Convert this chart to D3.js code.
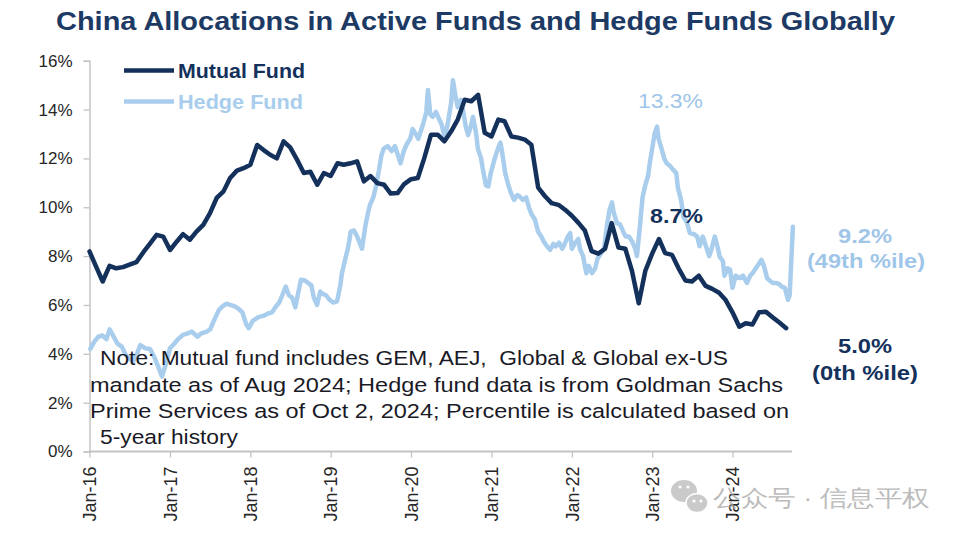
<!DOCTYPE html>
<html><head><meta charset="utf-8">
<script src="https://cdn.jsdelivr.net/npm/d3@7"></script>
<style>
body{margin:0;background:#fff}
text{font-family:"Liberation Sans",Arial,sans-serif}
</style>
</head><body>
<svg id="chart" width="960" height="537"></svg>
<script>
// ---------- DATA ----------
const titleText = "China Allocations in Active Funds and Hedge Funds Globally";
const seriesNames = ["Mutual Fund", "Hedge Fund"];

// Mutual fund: monthly, starting Jan 2016
const mutualStart = "2016-01-01";
const mutualValues = [
  8.19, 7.55, 6.96, 7.6, 7.5, 7.55, 7.65, 7.75, 8.15, 8.5, 8.87, 8.8,
  8.25, 8.6, 8.9, 8.67, 9.0, 9.28, 9.75, 10.38, 10.65, 11.2, 11.5, 11.6,
  11.74, 12.55, 12.35, 12.15, 12.0, 12.7, 12.45, 11.95, 11.4, 11.45, 10.92, 11.4,
  11.28, 11.8, 11.74, 11.8, 11.88, 11.06, 11.28, 10.99, 10.92, 10.56, 10.58, 10.95,
  11.15, 11.2, 12.0, 12.97, 12.97, 12.7, 13.1, 13.6, 14.4, 14.34, 14.6, 13.05,
  12.9, 13.59, 13.52, 12.9, 12.85, 12.77, 12.56, 10.8, 10.45, 10.17, 10.1, 9.9,
  9.65, 9.35, 9.05, 8.2, 8.1, 8.3, 9.35, 8.35, 8.3, 7.4, 6.07, 7.4,
  8.1, 8.7, 8.12, 8.05, 7.5, 7.0, 6.96, 7.2, 6.78, 6.66, 6.5, 6.2,
  5.7, 5.11, 5.25, 5.2, 5.7, 5.72, 5.5, 5.28, 5.05
];

// Hedge fund: dates as decimal years, values in %
const hedgeDates = [
  2016.01,2016.06,2016.11,2016.16,2016.21,2016.25,2016.30,2016.35,2016.40,2016.45,2016.50,2016.54,2016.59,2016.63,2016.69,2016.75,2016.80,2016.85,2016.90,2016.95,
  2017.00,2017.05,2017.10,2017.16,2017.23,2017.27,2017.34,2017.39,2017.45,2017.50,2017.56,2017.61,2017.65,2017.70,2017.75,2017.80,2017.85,2017.90,2017.95,2017.98,
  2018.03,2018.10,2018.16,2018.22,2018.27,2018.32,2018.36,2018.41,2018.44,2018.48,2018.52,2018.56,2018.59,2018.63,2018.68,2018.72,2018.76,2018.79,2018.83,2018.87,2018.90,2018.94,2018.99,
  2019.03,2019.08,2019.12,2019.14,2019.18,2019.22,2019.25,2019.29,2019.33,2019.36,2019.39,2019.43,2019.46,2019.49,2019.53,2019.56,2019.60,2019.63,2019.66,2019.71,2019.76,2019.80,2019.84,2019.87,2019.91,2019.95,2019.99,
  2020.02,2020.06,2020.09,2020.12,2020.15,2020.19,2020.21,2020.24,2020.27,2020.31,2020.35,2020.38,2020.42,2020.46,2020.50,2020.52,2020.55,2020.58,2020.62,2020.65,2020.68,2020.71,2020.75,2020.77,2020.81,2020.83,2020.87,2020.89,2020.93,2020.96,2020.99,
  2021.04,2021.08,2021.11,2021.13,2021.17,2021.21,2021.24,2021.28,2021.32,2021.35,2021.39,2021.43,2021.47,2021.50,2021.54,2021.58,2021.62,2021.65,2021.69,2021.73,2021.77,2021.80,2021.84,2021.88,2021.91,2021.95,2021.98,
  2022.00,2022.04,2022.08,2022.10,2022.14,2022.18,2022.21,2022.25,2022.29,2022.32,2022.36,2022.40,2022.44,2022.47,2022.50,2022.52,2022.56,2022.60,2022.64,2022.67,2022.71,2022.75,2022.79,2022.81,2022.85,2022.88,2022.91,2022.95,2022.97,
  2023.01,2023.03,2023.06,2023.08,2023.12,2023.15,2023.18,2023.22,2023.26,2023.30,2023.32,2023.36,2023.39,2023.43,2023.47,2023.52,2023.56,2023.59,2023.63,2023.67,2023.71,2023.74,2023.78,2023.82,2023.84,2023.88,2023.90,2023.94,2023.97,
  2024.00,2024.04,2024.09,2024.13,2024.18,2024.22,2024.25,2024.29,2024.33,2024.36,2024.39,2024.43,2024.46,2024.50,2024.54,2024.58,2024.61,2024.65,2024.69,2024.71,2024.75
];
const hedgeValues = [
  4.2,4.5,4.7,4.75,4.6,5.0,4.7,4.4,4.3,3.95,3.8,3.68,4.0,4.36,4.23,4.2,3.9,3.5,3.07,3.6,
  4.23,4.4,4.6,4.77,4.85,4.91,4.7,4.84,4.9,5.0,5.46,5.8,5.93,6.05,6.0,5.95,5.85,5.7,5.2,5.05,
  5.35,5.5,5.55,5.65,5.7,5.95,6.1,6.5,6.75,6.4,6.3,5.9,6.4,7.03,7.0,6.9,6.8,6.3,6.0,6.55,6.45,6.4,6.2,
  6.1,6.15,6.8,7.3,7.85,8.4,9.0,9.05,8.8,8.55,8.3,9.2,9.7,10.1,10.4,10.8,11.5,12.1,12.4,12.5,12.3,12.5,12.1,11.8,12.3,12.6,12.8,
  13.2,13.0,12.8,13.1,13.4,13.9,14.8,13.8,13.7,13.9,13.6,13.4,12.8,13.5,14.3,15.2,14.6,14.1,14.4,13.9,13.3,12.95,13.4,13.7,13.0,12.4,12.0,11.6,10.9,10.85,11.4,
  12.0,12.4,12.65,12.3,11.4,10.9,10.6,10.3,10.5,10.44,10.3,10.4,9.95,9.7,9.5,9.0,8.8,8.6,8.4,8.26,8.5,8.4,8.55,8.3,8.5,8.8,8.94,
  8.3,8.53,8.7,8.3,8.0,7.3,7.6,7.3,7.5,7.9,8.1,8.3,9.3,9.9,10.2,9.8,9.35,9.3,9.0,8.8,8.8,8.6,8.3,8.0,9.3,10.4,10.85,11.3,11.8,
  12.6,13.0,13.3,12.8,12.36,12.0,11.8,11.7,11.54,11.4,10.8,10.3,9.6,9.4,8.94,8.9,8.8,8.4,8.8,8.4,8.0,8.3,8.8,8.3,7.98,7.8,7.2,7.5,7.44,
  6.7,7.2,7.1,7.2,6.9,7.2,7.3,7.5,7.7,7.85,7.6,7.1,7.0,6.9,6.9,6.85,6.75,6.7,6.21,6.4,9.2
];

const yTickValues = [0, 2, 4, 6, 8, 10, 12, 14, 16];
const xTickYears = [2016, 2017, 2018, 2019, 2020, 2021, 2022, 2023, 2024];
const xDomain = ["2016-01-01", "2024-10-02"];

const noteLines = [
  "Note: Mutual fund includes GEM, AEJ,  Global & Global ex-US",
  "mandate as of Aug 2024; Hedge fund data is from Goldman Sachs",
  "Prime Services as of Oct 2, 2024; Percentile is calculated based on",
  "5-year history"
];
const annHedgePeak = "13.3%";
const annMutualPeak = "8.7%";
const annHedgeLast = ["9.2%", "(49th %ile)"];
const annMutualLast = ["5.0%", "(0th %ile)"];
const watermark = "公众号 · 信息平权";

// ---------- STYLE ----------
const DARK = "#14315c";
const LIGHT = "#a9cdec";
const TITLE = "#1d3a64";
const AXIS = "#c3c3c3";

const svg = d3.select("#chart");
const parse = d3.timeParse("%Y-%m-%d");
function decYear(d){
  const y0 = Math.floor(d + 1e-9);
  const a = new Date(y0,0,1), b = new Date(y0+1,0,1);
  return new Date(+a + (d - y0) * (b - a));
}

const x = d3.scaleTime().domain(xDomain.map(parse)).range([89.5, 793]);
const y = d3.scaleLinear().domain([0, 16]).range([451.5, 60.7]);

const mStart = parse(mutualStart);
const mutual = mutualValues.map((v,i)=>({date:d3.timeMonth.offset(mStart,i), v}));
const hedge = hedgeValues.map((v,i)=>({date:decYear(hedgeDates[i]), v}));

// Title
svg.append("text").attr("x",56).attr("y",29.5)
  .attr("font-size",26).attr("font-weight","bold").attr("fill",TITLE)
  .attr("textLength",839).attr("lengthAdjust","spacingAndGlyphs")
  .text(titleText);

// Y axis
const yAxis = svg.append("g").attr("transform","translate(89.5,0)")
  .call(d3.axisLeft(y).tickValues(yTickValues).tickFormat(d=>d+"%").tickSize(6).tickPadding(11));
yAxis.select(".domain").attr("stroke",AXIS).attr("stroke-width",1.5);
yAxis.selectAll(".tick line").attr("stroke",AXIS).attr("stroke-width",1.3);
yAxis.selectAll(".tick text").attr("font-size",17).attr("fill","#262626")
  .attr("font-family","Liberation Sans, Arial, sans-serif");

// X axis
const xAxis = svg.append("g").attr("transform","translate(0,451.5)")
  .call(d3.axisBottom(x).tickValues(xTickYears.map(yr=>new Date(yr,0,1)))
    .tickFormat(d3.timeFormat("%b-%y")).tickSize(6));
xAxis.select(".domain").attr("stroke",AXIS).attr("stroke-width",2)
  .attr("d","M89.5,0H792");
xAxis.selectAll(".tick line").attr("stroke",AXIS).attr("stroke-width",1.3);
xAxis.selectAll(".tick text").attr("font-size",18).attr("fill","#262626")
  .attr("font-family","Liberation Sans, Arial, sans-serif")
  .attr("transform","rotate(-90)").attr("text-anchor","end")
  .attr("x",-15).attr("y",0).attr("dy","0.35em");

// Lines
const line = d3.line().x(d=>x(d.date)).y(d=>y(d.v)).curve(d3.curveLinear);
svg.append("path").datum(hedge).attr("d",line).attr("fill","none")
  .attr("stroke",LIGHT).attr("stroke-width",4.5).attr("stroke-linejoin","round").attr("stroke-linecap","round");
svg.append("path").datum(mutual).attr("d",line).attr("fill","none")
  .attr("stroke",DARK).attr("stroke-width",4.5).attr("stroke-linejoin","round").attr("stroke-linecap","round");

// Legend
const legend = [
  {name:seriesNames[0], color:DARK, ly:70.5, ty:77.5, w:127},
  {name:seriesNames[1], color:LIGHT, ly:101.5, ty:109, w:125}
];
legend.forEach(l=>{
  svg.append("line").attr("x1",124).attr("x2",174).attr("y1",l.ly).attr("y2",l.ly)
    .attr("stroke",l.color).attr("stroke-width",4.5);
  svg.append("text").attr("x",178).attr("y",l.ty).attr("font-size",19.5)
    .attr("font-weight","bold").attr("fill",l.color)
    .attr("textLength",l.w).attr("lengthAdjust","spacingAndGlyphs").text(l.name);
});

// Note
const notePos = [{x:100,y:365,w:628},{x:90,y:391.5,w:693},{x:90,y:417.5,w:699},{x:100,y:443.5,w:138}];
noteLines.forEach((t,i)=>{
  svg.append("text").attr("x",notePos[i].x).attr("y",notePos[i].y)
    .attr("font-size",20.5).attr("fill","#1a1a26").style("white-space","pre")
    .attr("textLength",notePos[i].w).attr("lengthAdjust","spacingAndGlyphs").text(t);
});

// Annotations
function ann(t,x0,yb,w,col,bold){
  svg.append("text").attr("x",x0).attr("y",yb).attr("font-size",20)
    .attr("font-weight",bold?"bold":"normal").attr("fill",col)
    .attr("textLength",w).attr("lengthAdjust","spacingAndGlyphs").text(t);
}
ann(annHedgePeak,638,108,65,"#9fc6e8",false);
ann(annMutualPeak,650,223,53,DARK,true);
ann(annHedgeLast[0],838,243,54,"#9fc6e8",true);
ann(annHedgeLast[1],807,268,118,"#9fc6e8",true);
ann(annMutualLast[0],838,353,54,DARK,true);
ann(annMutualLast[1],812,380,106,DARK,true);

// Watermark
const wm = svg.append("g").attr("opacity",0.75);
wm.append("ellipse").attr("cx",684).attr("cy",491).attr("rx",13).attr("ry",11).attr("fill","#b9b9b9");
wm.append("ellipse").attr("cx",697).attr("cy",503).attr("rx",11).attr("ry",9.5).attr("fill","#b9b9b9").attr("stroke","#fff").attr("stroke-width",1.5);
[[680,487],[688,487],[694,501],[701,501]].forEach(p=>wm.append("circle").attr("cx",p[0]).attr("cy",p[1]).attr("r",1.6).attr("fill","#fff"));
wm.append("text").attr("x",713).attr("y",506).attr("font-size",23)
  .attr("font-family","Noto Sans CJK SC, sans-serif").attr("fill","#a6a6a6")
  .attr("textLength",217).attr("lengthAdjust","spacingAndGlyphs").text(watermark);
</script>
</body></html>
